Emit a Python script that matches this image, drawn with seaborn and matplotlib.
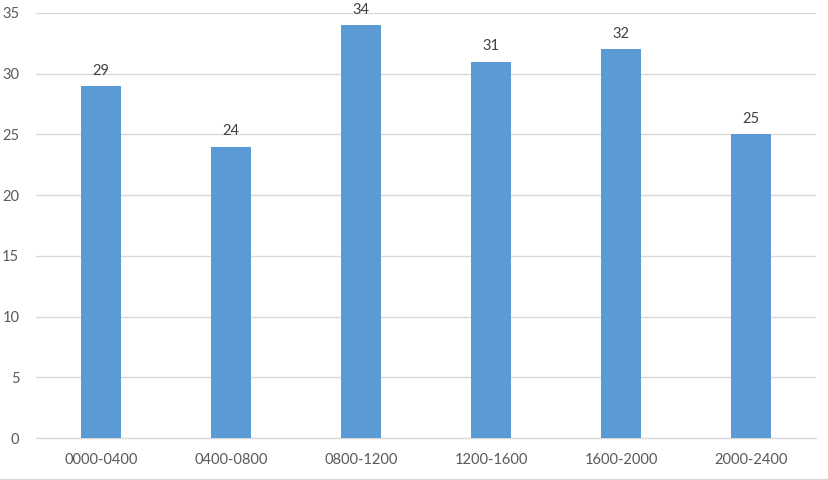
import matplotlib
matplotlib.use("Agg")
import matplotlib.pyplot as plt
import seaborn as sns
import pandas as pd

categories = ["0000-0400", "0400-0800", "0800-1200", "1200-1600", "1600-2000", "2000-2400"]
values = [29, 24, 34, 31, 32, 25]
yticks = [0, 5, 10, 15, 20, 25, 30, 35]

sns.set_style("white")
plt.rcParams['font.family'] = ['Lato', 'DejaVu Sans']

df = pd.DataFrame({"cat": categories, "val": values})

fig = plt.figure(figsize=(8.29, 4.80), dpi=100)
ax = fig.add_axes([36/829, 42/480, 780/829, 425/480])
sns.barplot(data=df, x="cat", y="val", color="#5B9BD5", saturation=1, width=0.315,
            linewidth=0, ax=ax, zorder=3)

ax.set_ylim(0, 35)
ax.set_yticks(yticks)
ax.set_xlim(-0.5, len(categories) - 0.5)
ax.grid(axis="y", color="#D9D9D9", linewidth=1, zorder=0)
for s in ["left", "right", "top"]:
    ax.spines[s].set_visible(False)
ax.spines["bottom"].set_color("#D9D9D9")
ax.spines["bottom"].set_linewidth(1)
ax.tick_params(axis="both", length=0, labelsize=10.5, labelcolor="#595959")
ax.tick_params(axis="x", pad=11)
ax.tick_params(axis="y", pad=12)
ax.set_xlabel("")
ax.set_ylabel("")

for i, v in enumerate(values):
    ax.annotate(str(v), (i, v), xytext=(0, 6), textcoords="offset points",
                ha="center", va="bottom", fontsize=10.5, color="#404040")

fig.add_artist(plt.Line2D([0, 1], [1/480, 1/480], color="#D9D9D9", linewidth=1, transform=fig.transFigure))

fig.savefig("out.png", dpi=100)
